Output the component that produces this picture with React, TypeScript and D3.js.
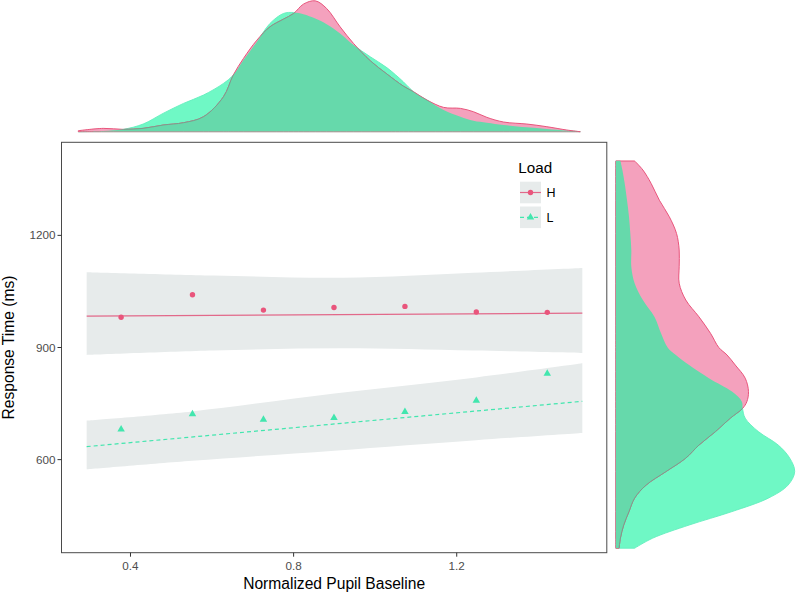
import React from 'react';
import * as d3 from 'd3';

// binned means
const pupilBins = [0.377, 0.552, 0.726, 0.899, 1.073, 1.248, 1.422];
const rtHigh = [981, 1041, 1000, 1007, 1010, 995, 994];
const rtLow = [681, 722, 707, 712, 728, 758, 830];

// fitted lines (lm) and their standard-error bands
const fitX = [0.2925, 1.508];
const fitHigh = [983.8, 991.8];
const fitLow = [634.8, 756];
const bandHighX = [0.2925, 0.603, 0.92, 1.241, 1.508];
const bandHighUpper = [1101.6, 1092.7, 1086.5, 1099.8, 1112.4];
const bandHighLower = [880.2, 892, 898, 892, 885.5];
const bandLowX = [0.2925, 0.551, 0.9, 1.248, 1.508];
const bandLowUpper = [704.5, 729, 777, 820, 857.6];
const bandLowLower = [574, 597, 624, 652, 671.2];

// marginal density of pupil baseline
const topGrid = [0.272, 0.333, 0.382, 0.431, 0.48, 0.53, 0.579, 0.628, 0.652, 0.677, 0.71, 0.742, 0.775, 0.8, 0.824, 0.853, 0.881, 0.914, 0.947, 0.988, 1.029, 1.069, 1.094, 1.127, 1.168, 1.209, 1.241, 1.274, 1.315, 1.372, 1.421, 1.47, 1.503];
const topHigh = [0.015, 0.05, 0.035, 0.05, 0.1, 0.135, 0.225, 0.525, 0.85, 1.1, 1.375, 1.575, 1.69, 1.775, 1.915, 1.965, 1.85, 1.575, 1.325, 1.065, 0.865, 0.685, 0.6, 0.475, 0.365, 0.35, 0.3, 0.215, 0.145, 0.115, 0.075, 0.025, 0];
const topLow = [0, 0.01, 0.035, 0.115, 0.275, 0.425, 0.55, 0.725, 0.85, 1.075, 1.35, 1.625, 1.775, 1.79, 1.765, 1.7, 1.615, 1.475, 1.3, 1.125, 0.96, 0.75, 0.6, 0.475, 0.325, 0.225, 0.165, 0.135, 0.1, 0.065, 0.04, 0.015, 0];

// marginal density of response time (x1000)
const rightGrid = [1399, 1375, 1339, 1294, 1250, 1205, 1161, 1116, 1072, 1027, 982, 938, 900, 880, 853, 818, 782, 755, 737, 711, 675, 639, 604, 568, 532, 497, 461, 425, 390, 363];
const rightHigh = [0.285, 0.41, 0.535, 0.66, 0.81, 0.92, 0.96, 0.96, 0.96, 1.06, 1.26, 1.435, 1.56, 1.685, 1.81, 1.96, 2.01, 1.985, 1.92, 1.735, 1.51, 1.26, 1.06, 0.76, 0.46, 0.285, 0.2, 0.12, 0.07, 0.05];
const rightLow = [0.07, 0.1, 0.135, 0.17, 0.2, 0.22, 0.235, 0.235, 0.285, 0.41, 0.585, 0.685, 0.785, 0.91, 1.11, 1.41, 1.76, 1.91, 1.92, 1.96, 2.16, 2.46, 2.635, 2.71, 2.61, 2.31, 1.76, 1.11, 0.56, 0.285];

const xTicks = [0.4, 0.8, 1.2];
const yTicks = [600, 900, 1200];
const loads = ['H', 'L'];

const FONT = 'Liberation Sans, Arial, Helvetica, sans-serif';
const PINK = '#e9557c';
const PINK_LINE = '#e2698a';
const PINK_FILL = '#f4a1bd';
const GREEN = '#42e6ae';
const GREEN_FILL = '#6ff8c5';
const GREEN_EDGE = '#62eebd';
const OVERLAP = '#66d9ab';
const GREY_EDGE = '#7c9c8c';
const BAND = '#e7ebeb';

const panel = { left: 61.5, right: 606.8, top: 142.3, bottom: 552.7 };

const x = d3.scaleLinear().domain([0.2308, 1.568]).range([panel.left, panel.right]);
const y = d3.scaleLinear().domain([351, 1449]).range([panel.bottom, panel.top]);
const topY = d3.scaleLinear().domain([0, 1.97]).range([131.7, 0.5]);
const rightX = d3.scaleLinear().domain([0, 2.71]).range([615.8, 794.7]);

const curve = d3.curveCatmullRom.alpha(0.5);

const topArea = (vals: number[]) =>
  d3.area<number>()
    .x((_, i) => x(topGrid[i]))
    .y0(topY(0))
    .y1(d => topY(d))
    .curve(curve)(vals) || '';

const topLine = (vals: number[]) =>
  d3.line<number>()
    .x((_, i) => x(topGrid[i]))
    .y(d => topY(d))
    .curve(curve)(vals) || '';

const rightArea = (vals: number[]) =>
  d3.area<number>()
    .y((_, i) => y(rightGrid[i]))
    .x0(rightX(0))
    .x1(d => rightX(d))
    .curve(curve)(vals) || '';

const rightLine = (vals: number[]) =>
  d3.line<number>()
    .y((_, i) => y(rightGrid[i]))
    .x(d => rightX(d))
    .curve(curve)(vals) || '';

const band = (xs: number[], lo: number[], hi: number[]) =>
  d3.area<number>()
    .x((_, i) => x(xs[i]))
    .y0((_, i) => y(lo[i]))
    .y1(d => y(d))
    .curve(curve)(hi) || '';

const fitLine = (vals: number[]) =>
  d3.line<number>()
    .x((_, i) => x(fitX[i]))
    .y(d => y(d))(vals) || '';

const triangle = d3.symbol().type(d3.symbolTriangle).size(24)() || '';

const Marginal: React.FC<{
  id: string;
  area: (v: number[]) => string;
  line: (v: number[]) => string;
  high: number[];
  low: number[];
}> = ({ id, area, line, high, low }) => (
  <g>
    <defs>
      <clipPath id={`${id}-h`}><path d={area(high)} /></clipPath>
      <clipPath id={`${id}-l`}><path d={area(low)} /></clipPath>
    </defs>
    <path d={area(low)} fill={GREEN_FILL} stroke={GREEN_EDGE} strokeWidth={0.9} />
    <path d={area(high)} fill={PINK_FILL} stroke={PINK} strokeWidth={1} />
    <path d={area(low)} fill={OVERLAP} clipPath={`url(#${id}-h)`} />
    <path d={line(high)} fill="none" stroke={GREY_EDGE} strokeWidth={1} clipPath={`url(#${id}-l)`} />
  </g>
);

export default function App() {
  const keyY = [192.5, 217.3];
  return (
    <div style={{ position: 'absolute', left: 0, top: 0 }}>
      <svg width={798} height={592} style={{ display: 'block', background: '#fff' }} fontFamily={FONT}>
        {/* top marginal */}
        <Marginal id="top" area={topArea} line={topLine} high={topHigh} low={topLow} />
        {/* right marginal */}
        <Marginal id="right" area={rightArea} line={rightLine} high={rightHigh} low={rightLow} />

        {/* main panel */}
        <path d={band(bandHighX, bandHighLower, bandHighUpper)} fill={BAND} />
        <path d={band(bandLowX, bandLowLower, bandLowUpper)} fill={BAND} />
        <path d={fitLine(fitHigh)} fill="none" stroke={PINK_LINE} strokeWidth={1.2} />
        <path d={fitLine(fitLow)} fill="none" stroke={GREEN} strokeWidth={1.2} strokeDasharray="4,3" />
        {pupilBins.map((b, i) => (
          <circle key={`h${i}`} cx={x(b)} cy={y(rtHigh[i])} r={2.7} fill={PINK} />
        ))}
        {pupilBins.map((b, i) => (
          <path key={`l${i}`} d={triangle} transform={`translate(${x(b)},${y(rtLow[i])})`} fill={GREEN} />
        ))}
        <rect x={panel.left} y={panel.top} width={panel.right - panel.left} height={panel.bottom - panel.top}
          fill="none" stroke="#4a4a4a" strokeWidth={1} />

        {/* axes */}
        {yTicks.map(t => (
          <g key={t}>
            <line x1={panel.left - 4} x2={panel.left} y1={y(t)} y2={y(t)} stroke="#333" strokeWidth={1} />
            <text x={panel.left - 6} y={y(t) + 4} textAnchor="end" fontSize={11.7} fill="#4d4d4d">{t}</text>
          </g>
        ))}
        {xTicks.map(t => (
          <g key={t}>
            <line x1={x(t)} x2={x(t)} y1={panel.bottom} y2={panel.bottom + 4} stroke="#333" strokeWidth={1} />
            <text x={x(t)} y={570} textAnchor="middle" fontSize={11.7} fill="#4d4d4d">{t.toFixed(1)}</text>
          </g>
        ))}
        <text x={(panel.left + panel.right) / 2} y={588.6} textAnchor="middle" fontSize={15.6} fill="#000">
          Normalized Pupil Baseline
        </text>
        <text transform={`translate(13.5,${(panel.top + panel.bottom) / 2}) rotate(-90)`} textAnchor="middle"
          fontSize={15.6} fill="#000">
          Response Time (ms)
        </text>

        {/* legend */}
        <text x={518.3} y={173.3} fontSize={15.2} fill="#000">Load</text>
        {loads.map((k, i) => (
          <g key={k}>
            <rect x={520} y={keyY[i] - 10.8} width={21} height={21.6} fill={BAND} />
            <line x1={520} x2={541} y1={keyY[i]} y2={keyY[i]}
              stroke={i === 0 ? PINK_LINE : GREEN} strokeWidth={1.2}
              strokeDasharray={i === 0 ? undefined : '4,3'} />
            {i === 0
              ? <circle cx={530.5} cy={keyY[i]} r={2.7} fill={PINK} />
              : <path d={triangle} transform={`translate(530.5,${keyY[i]})`} fill={GREEN} />}
            <text x={546.5} y={keyY[i] + 4.6} fontSize={12.5} fill="#000">{k}</text>
          </g>
        ))}
      </svg>
    </div>
  );
}
